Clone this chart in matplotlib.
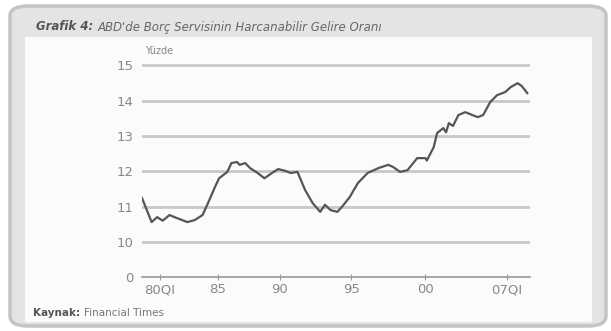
import matplotlib.pyplot as plt
import numpy as np
from matplotlib.patches import FancyBboxPatch, Rectangle

# debt service ratio, percent of disposable income
years = [1980.0, 1980.7, 1981.1, 1981.5, 1982.0, 1982.5, 1983.3, 1983.85, 1984.4, 1984.8,
         1985.3, 1985.6, 1986.2, 1986.5, 1986.9, 1987.1, 1987.5, 1987.85, 1988.4, 1988.9,
         1989.45, 1989.9, 1990.4, 1990.8, 1991.3, 1991.85, 1992.4, 1992.95, 1993.3, 1993.7,
         1994.2, 1994.55, 1995.1, 1995.7, 1996.4, 1997.2, 1997.9, 1998.25, 1998.75, 1999.3,
         2000.0, 2000.6, 2000.7, 2001.2, 2001.45, 2001.9, 2002.1, 2002.3, 2002.6, 2003.0,
         2003.5, 2004.0, 2004.4, 2004.8, 2005.3, 2005.8, 2006.4, 2006.8, 2007.3, 2007.6, 2008.0]
ratio = [11.24, 10.56, 10.70, 10.60, 10.76, 10.68, 10.56, 10.62, 10.76, 11.10,
         11.55, 11.80, 11.98, 12.23, 12.26, 12.18, 12.23, 12.09, 11.95, 11.80,
         11.95, 12.06, 12.01, 11.95, 11.98, 11.47, 11.10, 10.85, 11.05, 10.90,
         10.85, 11.00, 11.27, 11.67, 11.95, 12.09, 12.18, 12.12, 11.98, 12.03,
         12.37, 12.37, 12.30, 12.68, 13.08, 13.22, 13.10, 13.36, 13.28, 13.59,
         13.67, 13.59, 13.53, 13.59, 13.95, 14.15, 14.24, 14.38, 14.49, 14.41, 14.21]

ytick_vals = [0, 10, 11, 12, 13, 14, 15]
xtick_labels = ['80QI', '85', '90', '95', '00', '07QI']
xtick_pos = [1981.3, 1985.5, 1990.0, 1995.2, 2000.6, 2006.5]

W, H = 611, 331
fig = plt.figure(figsize=(W / 100, H / 100), dpi=100)
fig.patch.set_facecolor('white')

# frame around the chart
fig.patches.append(FancyBboxPatch((10 / W, 5 / H), 596 / W, 320 / H,
                                  boxstyle='round,pad=0,rounding_size=0.03',
                                  transform=fig.transFigure, facecolor='#e4e4e4',
                                  edgecolor='#c4c4c4', linewidth=2.5, zorder=0))
fig.patches.append(Rectangle((25 / W, 9 / H), 567 / W, 285 / H,
                             transform=fig.transFigure, facecolor='#fbfbfb',
                             edgecolor='none', zorder=0))

t1 = fig.text(36 / W, 1 - 27 / H, 'Grafik 4:', fontsize=8.5, fontweight='bold',
              fontstyle='italic', color='#555555', va='center', ha='left')
k1 = fig.text(33 / W, 1 - 313 / H, 'Kaynak:', fontsize=7.5, fontweight='bold',
              color='#555555', va='center', ha='left')

ax = fig.add_axes([142 / W, 52 / H, 388 / W, 215.6 / H])
ax.set_zorder(2)
ax.set_facecolor('none')

ax.annotate("ABD'de Borç Servisinin Harcanabilir Gelire Oranı", xy=(1, 0.5),
            xycoords=t1, xytext=(3, 0), textcoords='offset points',
            fontsize=8.5, fontstyle='italic', color='#666666',
            va='center', ha='left', annotation_clip=False)
ax.annotate('Financial Times', xy=(1, 0.5), xycoords=k1, xytext=(3, 0),
            textcoords='offset points', fontsize=7.5, color='#777777',
            va='center', ha='left', annotation_clip=False)

# broken axis: 0 is drawn one step below 10
def ypos(v):
    return np.where(np.asarray(v) == 0, 9, v)

for v in ytick_vals[1:]:
    ax.axhline(v, color='#c8c8c8', lw=2, zorder=1)
ax.plot(years, ratio, color='#555555', lw=1.6, zorder=3)

ax.set_xlim(1980, 2008.2)
ax.set_ylim(8.95, 15.05)
ax.set_yticks(ypos(ytick_vals))
ax.set_yticklabels([str(v) for v in ytick_vals])
ax.set_xticks(xtick_pos)
ax.set_xticklabels(xtick_labels)

for s in ['top', 'right', 'left']:
    ax.spines[s].set_visible(False)
ax.spines['bottom'].set_position(('data', 9))
ax.spines['bottom'].set_color('#999999')
ax.spines['bottom'].set_linewidth(1.2)
ax.tick_params(axis='y', length=0, pad=6, labelsize=9.5, labelcolor='#888888')
ax.tick_params(axis='x', direction='inout', length=5, color='#999999', pad=2,
               labelsize=9.5, labelcolor='#888888')

ax.text(1980.2, 15.25, 'Yüzde', fontsize=7, color='#888888', ha='left', va='bottom')

fig.savefig('out.png', dpi=100)
